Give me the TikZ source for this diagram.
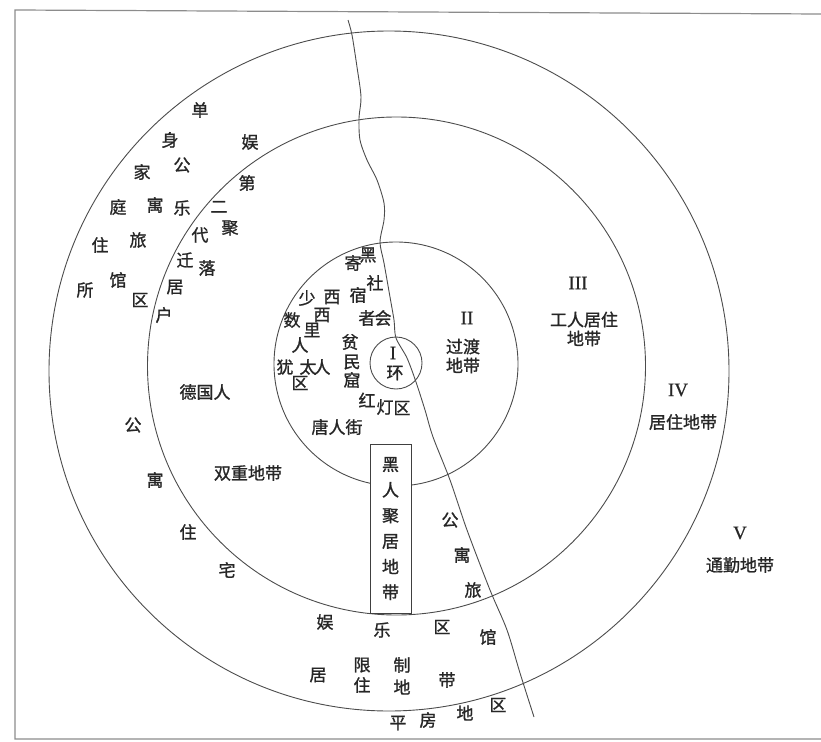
\documentclass[tikz,border=0pt]{standalone}
\usepackage{fontspec}
\newfontfamily\cjk{Noto Sans CJK SC}[FakeBold=1.2]
\newfontfamily\rmn{Liberation Serif}[FakeBold=0.8]
\begin{document}
\begin{tikzpicture}[x=1pt,y=-1pt,
  ring/.style={circle,draw=black!70,line width=0.9pt,inner sep=0pt},
  frameline/.style={draw=black!45,line width=1.2pt},
  ch/.style={font=\cjk\fontsize{17}{17}\selectfont,inner sep=0pt,text=black!85},
  rn/.style={font=\rmn\fontsize{19}{19}\selectfont,inner sep=0pt,text=black!85},
  zone/.style={font=\cjk\fontsize{17}{19}\selectfont,inner sep=0pt,align=center,text=black!85},
  river/.style={draw=black!70,line width=0.9pt}]
\useasboundingbox (0,0) rectangle (821,741);
% frame
\coordinate (fTL) at (15,10);
\coordinate (fTR) at (821,14);
\coordinate (fBL) at (15,739);
\coordinate (fBR) at (821,739);
\draw[frameline] (fTR) -- (fTL) -- (fBL) -- (fBR);
% rings
\node[ring,minimum size=680pt] (ringIV) at (389,371) {};
\node[ring,minimum size=498pt] (ringIII) at (396.5,366) {};
\node[ring,minimum size=244pt] (ringII) at (396,364) {};
\node[ring,minimum size=52pt] (ringI) at (396,363) {};
% river
\draw[river] plot[smooth,tension=0.5] coordinates {(348,20) (352,35) (357,67) (361,97) (359,118) (360,140) (367,160) (377,180) (384,203) (384,220) (380,242) (384,263) (390,297) (394,320) (396,338) (407,358) (416,382) (425,410) (433,437) (450,480) (467,530) (490,590) (507,630) (520,673) (534,717)};
% black belt box
\node[draw=black!75,line width=0.9pt,fill=white,minimum width=41pt,minimum height=169pt,inner sep=0pt,
  font=\cjk\fontsize{17}{25.6}\selectfont,align=center,text=black!85] (blackbelt) at (390.5,528.5)
  {黑\\人\\聚\\居\\地\\带};
% single characters
\foreach \px/\py/\t [count=\i] in {
  200/110/单, 170/140/身, 250/142/娱, 182/165/公, 142/172/家, 247/183/第,
  118/207/庭, 155/205/寓, 182/208/乐, 219/207/二, 230/228/聚,
  100/245/住, 138/240/旅, 200/235/代, 185/260/迁, 207/268/落,
  85/290/所, 118/280/馆, 175/287/居, 140/300/区, 164/315/户,
  368/255/黑, 353/263/寄, 375/283/社, 307/298/少, 332/297/西, 358/295/宿,
  292/320/数, 322/315/西, 367/318/者, 383/318/会, 312/330/里, 300/345/人,
  350/342/贫, 285/367/犹, 308/367/太, 322/367/人, 352/362/民, 300/383/区,
  352/380/窟, 395/373/环, 367/400/红, 385/407/灯, 402/408/区,
  133/425/公, 155/480/寓, 188/532/住, 227/570/宅,
  450/520/公, 462/555/寓, 473/590/旅,
  325/622/娱, 382/630/乐, 442/627/区, 488/637/馆,
  362/665/限, 402/665/制, 318/675/居, 362/685/住, 402/687/地, 447/680/带,
  498/705/区, 465/713/地, 428/720/房, 398/723/平}
  \node[ch] (c\i) at (\px,\py) {\t};
% words
\node[zone] (tangren) at (337,427) {唐人街};
\node[zone] (deguo) at (205,392) {德国人};
\node[zone] (shuangchong) at (248,473) {双重地带};
\node[zone] (guodu) at (463,356) {过渡\\地带};
\node[zone] (gongren) at (584,329) {工人居住\\地带};
\node[zone] (juzhu) at (683,422) {居住地带};
\node[zone] (tongqin) at (740,565) {通勤地带};
% roman numerals
\node[rn] (nI) at (393,353) {I};
\node[rn] (nII) at (467,318) {II};
\node[rn] (nIII) at (578,283) {III};
\node[rn] (nIV) at (678,390) {IV};
\node[rn] (nV) at (740,533) {V};
\end{tikzpicture}
\end{document}
